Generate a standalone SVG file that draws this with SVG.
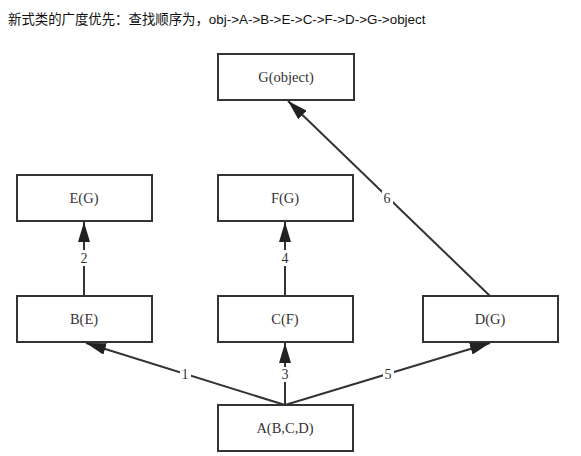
<svg xmlns="http://www.w3.org/2000/svg" width="581" height="456" viewBox="0 0 581 456">
<style>
.box{fill:#fff;stroke:#333;stroke-width:2}
.nt{font-family:"Liberation Serif",serif;font-size:14.5px;fill:#333;text-anchor:middle}
.e{stroke:#333;stroke-width:2;fill:none}
.el{font-family:"Liberation Serif",serif;font-size:14px;fill:#333;text-anchor:middle}
.lb{fill:#fff}
</style>
<defs>
<marker id="ahb" viewBox="0 0 20 12" refX="20" refY="6" markerWidth="20" markerHeight="12" markerUnits="userSpaceOnUse" orient="auto">
<path d="M0,0 L20,6 L0,12 z" fill="#222"/>
</marker>
</defs>
<text x="8" y="24" font-family="'Liberation Sans','Noto Sans CJK SC',sans-serif" font-size="13.4" fill="#111">新式类的广度优先：查找顺序为，obj-&gt;A-&gt;B-&gt;E-&gt;C-&gt;F-&gt;D-&gt;G-&gt;object</text>
<g id="edges">
<line class="e" x1="84" y1="296" x2="84" y2="222" marker-end="url(#ahb)"/>
<line class="e" x1="285" y1="296" x2="285" y2="222" marker-end="url(#ahb)"/>
<line class="e" x1="285" y1="405" x2="285" y2="343" marker-end="url(#ahb)"/>
<line class="e" x1="285" y1="405" x2="86" y2="343" marker-end="url(#ahb)"/>
<line class="e" x1="285" y1="405" x2="490" y2="343" marker-end="url(#ahb)"/>
<line class="e" x1="490" y1="296" x2="288" y2="101" marker-end="url(#ahb)"/>
<rect class="lb" x="78" y="250" width="12" height="16"/>
<text class="el" x="84" y="263">2</text>
<rect class="lb" x="279" y="250" width="12" height="16"/>
<text class="el" x="285" y="263">4</text>
<rect class="lb" x="279" y="367" width="12" height="15"/>
<text class="el" x="285" y="379">3</text>
<rect class="lb" x="180" y="367" width="11" height="15"/>
<text class="el" x="185" y="379">1</text>
<rect class="lb" x="383" y="367" width="11" height="15"/>
<text class="el" x="388" y="379">5</text>
<rect class="lb" x="382" y="191" width="11" height="15"/>
<text class="el" x="387" y="203">6</text>
</g>
<g id="G"><rect class="box" x="218" y="54" width="136" height="46"/><text class="nt" x="286" y="82">G(object)</text></g>
<g id="E"><rect class="box" x="17" y="175" width="135" height="46"/><text class="nt" x="84" y="203">E(G)</text></g>
<g id="F"><rect class="box" x="218" y="175" width="135" height="46"/><text class="nt" x="285" y="203">F(G)</text></g>
<g id="B"><rect class="box" x="17" y="296" width="135" height="46"/><text class="nt" x="84" y="324">B(E)</text></g>
<g id="C"><rect class="box" x="218" y="296" width="135" height="46"/><text class="nt" x="285" y="324">C(F)</text></g>
<g id="D"><rect class="box" x="423" y="296" width="135" height="46"/><text class="nt" x="490" y="324">D(G)</text></g>
<g id="A"><rect class="box" x="218" y="405" width="135" height="46"/><text class="nt" x="285" y="433">A(B,C,D)</text></g>
</svg>
